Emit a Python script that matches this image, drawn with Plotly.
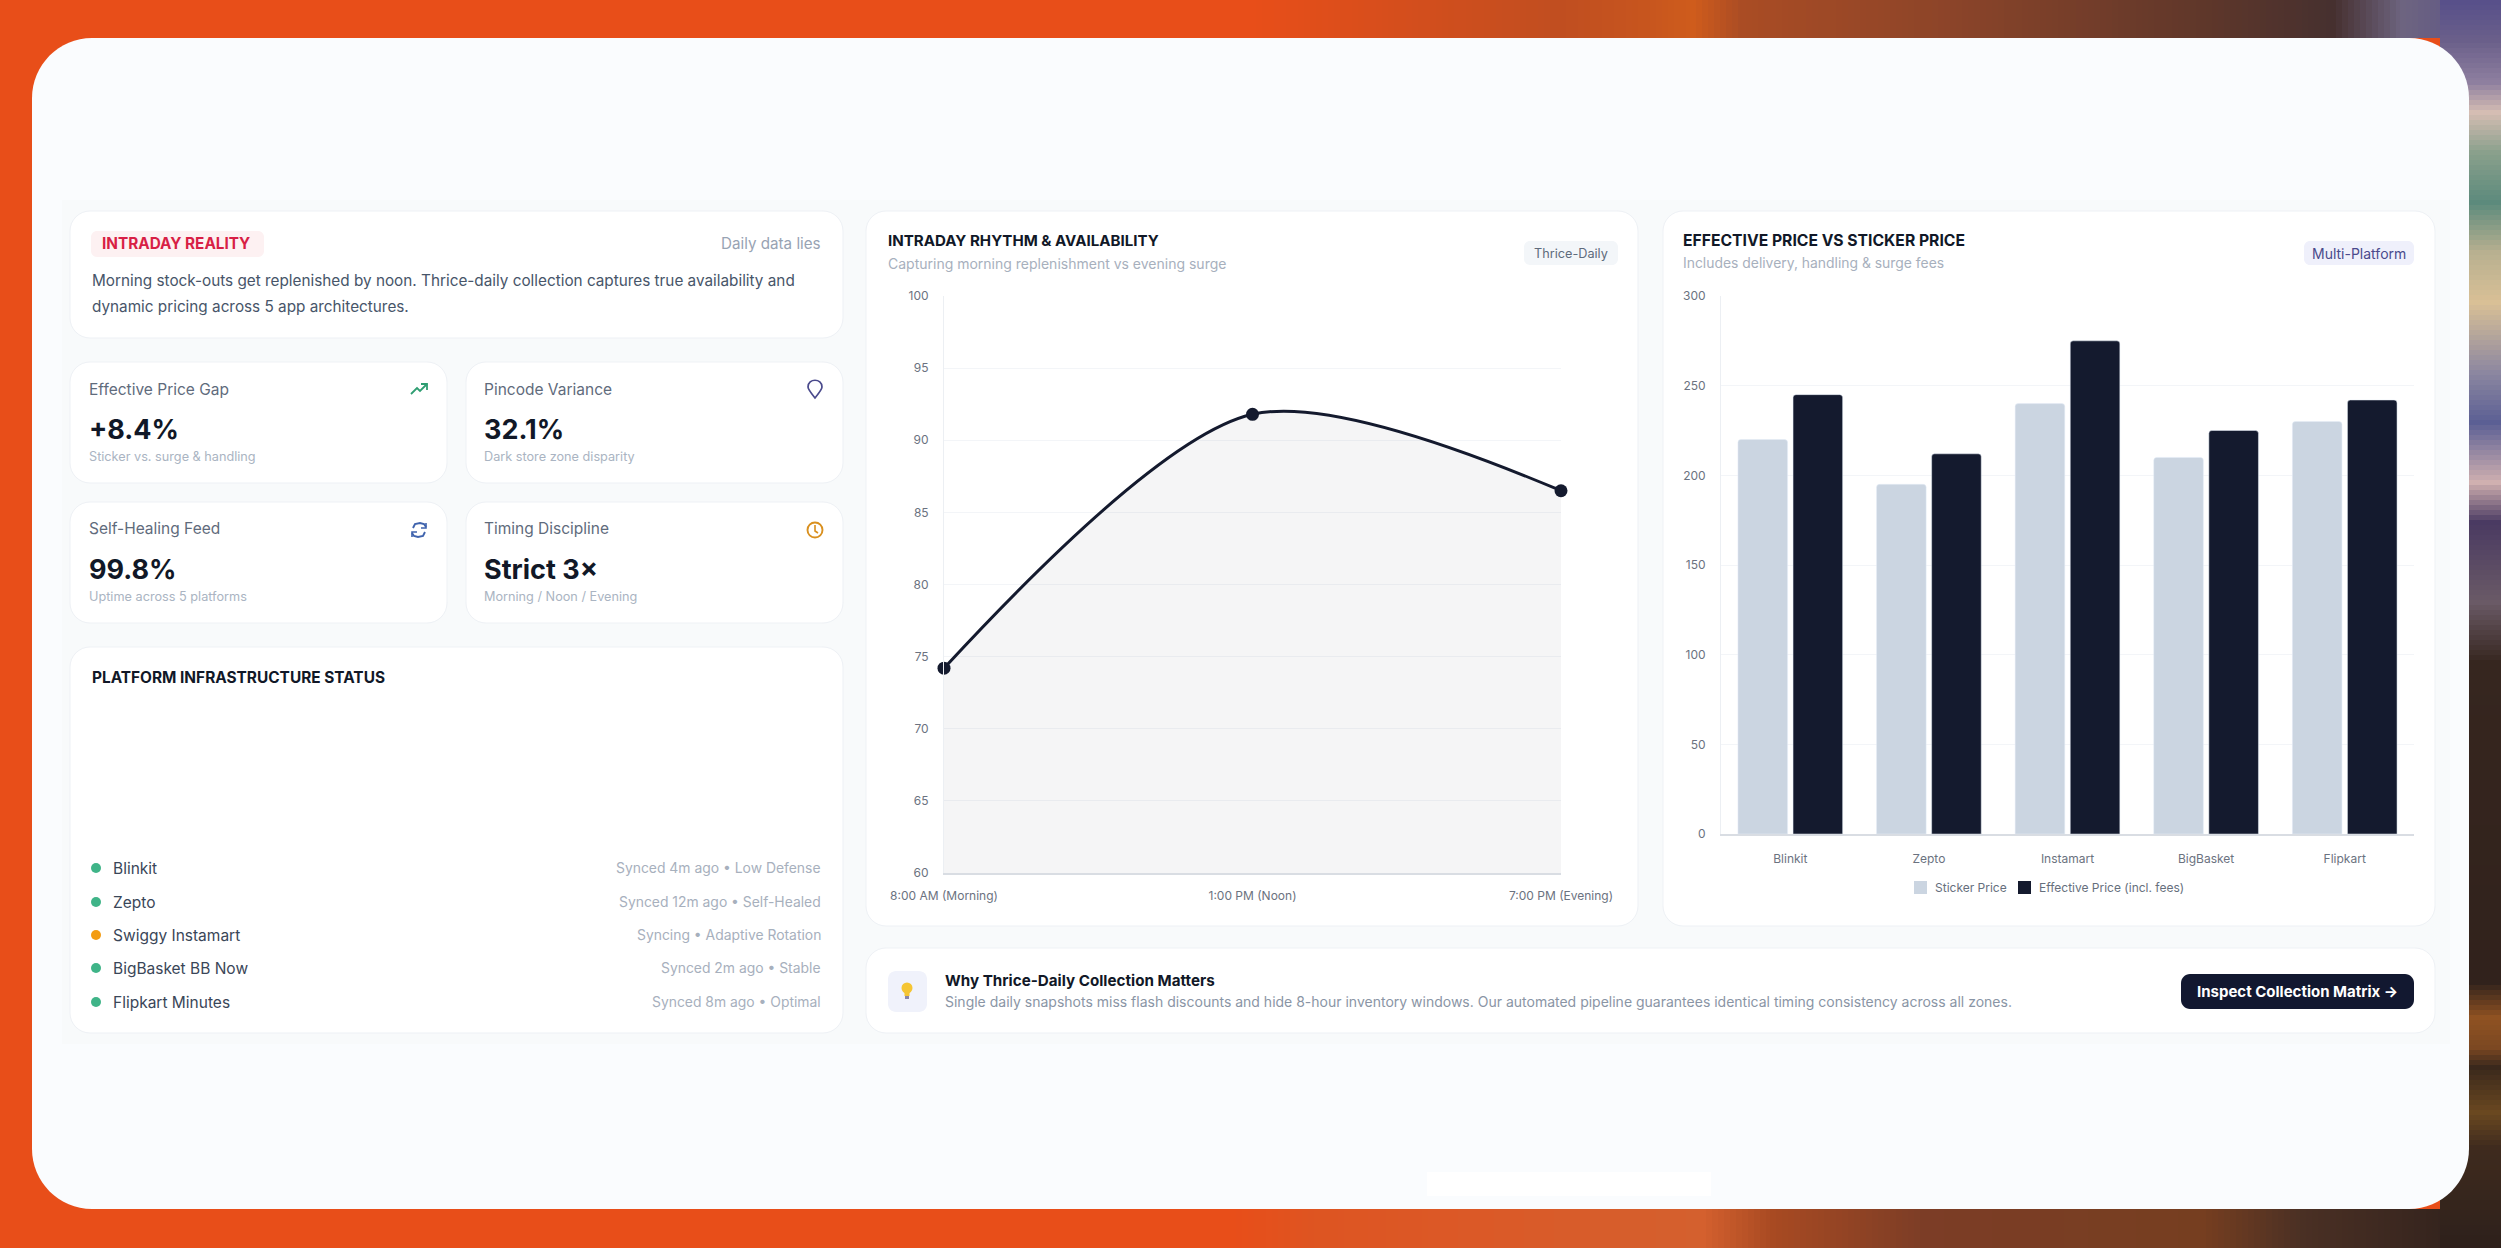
import plotly.graph_objects as go

W, H = 2501, 1248

# ---- data ----
times = ["8:00 AM (Morning)", "1:00 PM (Noon)", "7:00 PM (Evening)"]
availability = [74.2, 91.8, 86.5]
platforms = ["Blinkit", "Zepto", "Instamart", "BigBasket", "Flipkart"]
sticker_price = [220, 195, 240, 210, 230]
effective_price = [245, 212, 275, 225, 242]
avail_ticks = [60, 65, 70, 75, 80, 85, 90, 95, 100]
price_ticks = [0, 50, 100, 150, 200, 250, 300]

status_names = ["Blinkit", "Zepto", "Swiggy Instamart", "BigBasket BB Now", "Flipkart Minutes"]
status_notes = ["Synced 4m ago • Low Defense", "Synced 12m ago • Self-Healed",
                "Syncing • Adaptive Rotation", "Synced 2m ago • Stable", "Synced 8m ago • Optimal"]
status_colors = ["#3fb488", "#3fb488", "#f39c12", "#3fb488", "#3fb488"]

kpi_labels = ["Effective Price Gap", "Pincode Variance", "Self-Healing Feed", "Timing Discipline"]
kpi_values = ["+8.4%", "32.1%", "99.8%", "Strict 3×"]
kpi_notes = ["Sticker vs. surge & handling", "Dark store zone disparity",
             "Uptime across 5 platforms", "Morning / Noon / Evening"]

FONT = "Inter"
INK = "#111827"
shapes, notes = [], []


def px(x): return x / W
def py(y): return 1 - y / H


def rrect(x0, y0, x1, y1, r, fill, line=None, lw=1, layer="below"):
    k = 0.45 * r
    pts = [("M", x0 + r, y0), ("L", x1 - r, y0),
           ("C", x1 - k, y0, x1, y0 + k, x1, y0 + r), ("L", x1, y1 - r),
           ("C", x1, y1 - k, x1 - k, y1, x1 - r, y1), ("L", x0 + r, y1),
           ("C", x0 + k, y1, x0, y1 - k, x0, y1 - r), ("L", x0, y0 + r),
           ("C", x0, y0 + k, x0 + k, y0, x0 + r, y0)]
    d = ""
    for p in pts:
        d += p[0] + " ".join(f"{px(p[i]):.6f},{py(p[i+1]):.6f}" for i in range(1, len(p), 2)) + " "
    shapes.append(dict(type="path", path=d + "Z", xref="paper", yref="paper", fillcolor=fill,
                       line=dict(color=line or fill, width=lw if line else 0), layer=layer))


def rect(x0, y0, x1, y1, fill, layer="below"):
    shapes.append(dict(type="rect", xref="paper", yref="paper", x0=px(x0), x1=px(x1), y0=py(y1), y1=py(y0),
                       fillcolor=fill, line=dict(width=0), layer=layer))


def stroke(points, color, width=1.6, closed=False, fill=None):
    d = "M" + " L".join(f"{px(a):.6f},{py(b):.6f}" for a, b in points) + (" Z" if closed else "")
    shapes.append(dict(type="path", path=d, xref="paper", yref="paper",
                       line=dict(color=color, width=width), fillcolor=fill or "rgba(0,0,0,0)", layer="below"))


def circle(cx, cy, r, fill="rgba(0,0,0,0)", line=None, lw=1.6):
    shapes.append(dict(type="circle", xref="paper", yref="paper", x0=px(cx - r), x1=px(cx + r),
                       y0=py(cy + r), y1=py(cy - r), fillcolor=fill,
                       line=dict(color=line or fill, width=lw if line else 0), layer="below"))


def text(x, y, s, size, color, bold=False, anchor="left"):
    notes.append(dict(text=f"<b>{s}</b>" if bold else s, x=px(x), y=py(y), xref="paper", yref="paper",
                      xanchor=anchor, yanchor="middle", showarrow=False,
                      font=dict(family=FONT, size=size, color=color)))


def lerp_hex(a, b, t):
    ca = [int(a[i:i + 2], 16) for i in (1, 3, 5)]
    cb = [int(b[i:i + 2], 16) for i in (1, 3, 5)]
    return "#" + "".join(f"{round(u + (v - u) * t):02x}" for u, v in zip(ca, cb))


def bands(stops, horizontal, a, b, step=12):
    """Soft background stripes between colour stops."""
    for s0, s1 in zip(stops, stops[1:]):
        p = s0[0]
        while p < s1[0]:
            q = min(p + step, s1[0])
            c = lerp_hex(s0[1], s1[1], (p - s0[0]) / max(1, s1[0] - s0[0]))
            if horizontal:
                rect(p, a, q + 1, b, c)
            else:
                rect(a, p, b, q + 1, c)
            p = q


# ---- background ----
rect(0, 0, W, H, "#e84e19")
bands([(0, "#e84e19"), (1250, "#e84e19"), (1560, "#c04e20"), (1650, "#c8561e"), (1690, "#cf5c1c"),
       (1740, "#aa4c24"), (1950, "#8b4429"), (2200, "#5f372a"), (2330, "#46302f"), (2400, "#6d6480"),
       (2501, "#58508a")], True, 0, 38, step=6)
bands([(0, "#e84e19"), (1230, "#e84e19"), (1320, "#dd5522"), (1440, "#dc5826"), (1700, "#d4602e"),
       (1770, "#a84a22"), (1920, "#7c3d26"), (2200, "#763e20"), (2300, "#4a3024"), (2501, "#2c1f1b")],
      True, 1209, H, step=6)
bands([(0, "#58508a"), (38, "#6a5f8a"), (80, "#8e7f9f"), (110, "#d5bdb3"), (150, "#8aa08c"), (200, "#5c8a7c"),
       (250, "#b8b090"), (300, "#d9c096"), (370, "#8c87a0"), (420, "#5b5f94"), (480, "#d0b0b0"),
       (520, "#4a3a62"), (600, "#6a5a66"), (660, "#36261f"), (980, "#31221c"), (1015, "#8f5222"),
       (1045, "#7c4822"), (1065, "#3a281c"), (1110, "#6a4820"), (1145, "#3f2b1e"), (1248, "#2d201b")],
      False, 2440, W, step=5)

# ---- panel & content backdrop ----
rrect(32, 38, 2469, 1209, 60, "#fafcfe")
rect(62, 200, 2450, 1044, "#f8fafb")
rect(1427, 1172, 1711, 1196, "#ffffff")

# ---- cards ----
BORDER = "#eef1f5"
for c in [(70, 211, 843, 338), (70, 362, 447, 483), (466, 362, 843, 483), (70, 502, 447, 623),
          (466, 502, 843, 623), (70, 647, 843, 1033), (866, 211, 1638, 926), (1663, 211, 2435, 926),
          (866, 948, 2435, 1033)]:
    rrect(*c, 20, "#ffffff", BORDER, 1)

# intraday reality card
rrect(91, 231, 264, 257, 6, "#fdf1f2")
text(100, 244, "INTRADAY REALITY", 15.3, "#d81f45", bold=True)
text(823, 244, "Daily data lies", 15.2, "#98a3b3", anchor="right")
text(90, 280, "Morning stock-outs get replenished by noon. Thrice-daily collection captures true availability and",
     15.3, "#475569")
text(90, 306, "dynamic pricing across 5 app architectures.", 15.3, "#475569")

# KPI cards
kpi_x = [87, 482, 87, 482]
kpi_y = [389, 389, 529, 529]
for i in range(4):
    text(kpi_x[i], kpi_y[i], kpi_labels[i], 15.5, "#5f6b7c")
    text(kpi_x[i], kpi_y[i] + 40, kpi_values[i], 27, INK, bold=True)
    text(kpi_x[i], kpi_y[i] + 67, kpi_notes[i], 12.7, "#aab4c2")

# KPI icons
stroke([(411, 394), (417, 388), (420, 391), (427, 384)], "#2f9e72", 1.8)
stroke([(421, 384), (427, 384), (427, 390)], "#2f9e72", 1.8)
shapes.append(dict(type="path", xref="paper", yref="paper", layer="below", fillcolor="rgba(0,0,0,0)",
                   line=dict(color="#4a4a8c", width=1.7),
                   path=f"M{px(815):.6f},{py(398):.6f} C{px(811):.6f},{py(393):.6f} {px(808):.6f},{py(389):.6f} {px(808):.6f},{py(387):.6f} "
                        f"C{px(808):.6f},{py(378):.6f} {px(822):.6f},{py(378):.6f} {px(822):.6f},{py(387):.6f} "
                        f"C{px(822):.6f},{py(389):.6f} {px(819):.6f},{py(393):.6f} {px(815):.6f},{py(398):.6f} Z"))
stroke([(426, 527), (424, 524), (420, 523), (415, 524), (413, 528)], "#3f63ad", 1.9)
stroke([(412, 533), (414, 536), (418, 537), (423, 536), (425, 532)], "#3f63ad", 1.9)
stroke([(426, 523), (426, 528), (421, 528)], "#3f63ad", 1.6)
stroke([(412, 537), (412, 532), (417, 532)], "#3f63ad", 1.6)
circle(815, 530, 7.5, line="#d9901f", lw=1.9)
stroke([(815, 525), (815, 531), (818, 533)], "#d9901f", 1.6)

# platform status
text(90, 677, "PLATFORM INFRASTRUCTURE STATUS", 15.4, INK, bold=True)
status_y = [868, 902, 935, 968, 1002]
for name, note, color, y in zip(status_names, status_notes, status_colors, status_y):
    circle(96, y, 5, color)
    text(111, y, name, 15.5, "#3a4658")
    text(823, y, note, 13.9, "#a7b0bd", anchor="right")

# line card header
text(886, 241, "INTRADAY RHYTHM &amp; AVAILABILITY", 15.1, INK, bold=True)
text(886, 263, "Capturing morning replenishment vs evening surge", 14, "#a7b0bd")
rrect(1524, 241, 1618, 265, 6, "#f3f6f9")
text(1571, 253, "Thrice-Daily", 12.7, "#5f6b7c", anchor="center")

# bar card header
text(1681, 241, "EFFECTIVE PRICE VS STICKER PRICE", 15.7, INK, bold=True)
text(1681, 263, "Includes delivery, handling &amp; surge fees", 13.9, "#a7b0bd")
rrect(2304, 241, 2414, 265, 6, "#eff0fb")
text(2359, 253, "Multi-Platform", 14, "#4a4a8c", anchor="center")

# legend of the bar chart
rect(1914, 881, 1927, 894, "#cbd5e1")
text(1933, 887, "Sticker Price", 12, "#666f7d")
rect(2018, 881, 2031, 894, "#141a2e")
text(2037, 887, "Effective Price (incl. fees)", 12, "#666f7d")

# footer card
rrect(888, 971, 927, 1012, 8, "#f0f2fb")
circle(907, 988, 5.5, "#f5c533")
rect(904.5, 992, 909.5, 996, "#f5c533")
rect(905, 996, 909, 999, "#8a86a8")
text(943, 980, "Why Thrice-Daily Collection Matters", 15.2, INK, bold=True)
text(943, 1001, "Single daily snapshots miss flash discounts and hide 8-hour inventory windows. "
                "Our automated pipeline guarantees identical timing consistency across all zones.", 14, "#8a95a5")
rrect(2181, 974, 2414, 1009, 9, "#121830")
text(2297.5, 991.5, "Inspect Collection Matrix →", 15, "#ffffff", bold=True, anchor="center")

# ---- charts ----
fig = go.Figure()
fig.add_trace(go.Scatter(x=times, y=availability, mode="lines+markers", xaxis="x", yaxis="y",
                         line=dict(color="#141a2e", width=3, shape="spline", smoothing=0.85),
                         marker=dict(color="#141a2e", size=13),
                         fill="tozeroy", fillcolor="rgba(15,23,42,0.045)",
                         cliponaxis=False, showlegend=False))
fig.add_trace(go.Bar(x=platforms, y=sticker_price, name="Sticker Price", xaxis="x2", yaxis="y2",
                     marker=dict(color="#cbd5e1", cornerradius=3), showlegend=False))
fig.add_trace(go.Bar(x=platforms, y=effective_price, name="Effective Price (incl. fees)", xaxis="x2", yaxis="y2",
                     marker=dict(color="#141a2e", cornerradius=3), showlegend=False))

tick_font = dict(family=FONT, size=12, color="#6b7280")
GRID = "#f3f5f8"
AXIS = "#d9dde3"
L0, L1, LT, LB = 944, 1561, 296, 873
B0, B1, BT, BB = 1721, 2414, 296, 834

fig.update_layout(
    width=W, height=H, margin=dict(l=0, r=0, t=0, b=0, autoexpand=False), autosize=False,
    paper_bgcolor="#e84e19", plot_bgcolor="rgba(0,0,0,0)",
    barmode="group", bargap=0.205, bargroupgap=0.1,
    shapes=shapes, annotations=notes,
    xaxis=dict(domain=[px(L0), px(L1)], anchor="y", type="category", range=[0, 2], showgrid=False, automargin=False,
               showline=True, linecolor=AXIS, linewidth=2, tickfont=tick_font, ticks="outside",
               ticklen=11, tickcolor="rgba(0,0,0,0)", zeroline=False),
    yaxis=dict(domain=[py(LB), py(LT)], anchor="x", range=[60, 100], tickvals=avail_ticks, gridcolor=GRID, automargin=False,
               gridwidth=1, showline=True, linecolor="#eceff3", linewidth=1, tickfont=tick_font, ticks="outside",
               ticklen=12, tickcolor="rgba(0,0,0,0)", zeroline=False),
    xaxis2=dict(domain=[px(B0), px(B1)], anchor="y2", type="category", showgrid=False, showline=True, automargin=False,
                linecolor=AXIS, linewidth=2, tickfont=tick_font, ticks="outside", ticklen=13,
                tickcolor="rgba(0,0,0,0)", zeroline=False),
    yaxis2=dict(domain=[py(BB), py(BT)], anchor="x2", range=[0, 300], tickvals=price_ticks, gridcolor=GRID, automargin=False,
                gridwidth=1, showline=True, linecolor="#eceff3", linewidth=1, tickfont=tick_font, ticks="outside",
                ticklen=12, tickcolor="rgba(0,0,0,0)", zeroline=False),
)

fig.write_html("out.html", config=dict(displayModeBar=False),
               post_script="document.body.style.margin='0';document.body.style.overflow='hidden';")
